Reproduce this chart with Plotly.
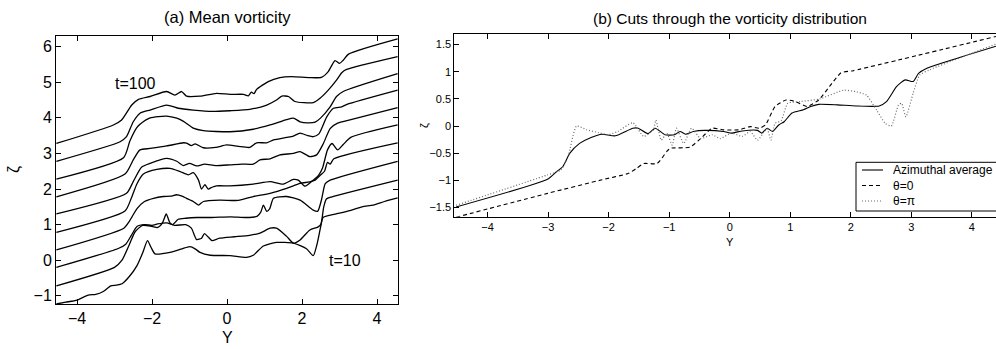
import plotly.graph_objects as go

# ---------------- (a) Mean vorticity: ten profiles, t=100 (top) ... t=10 (bottom)
t_labels = ["t=100", "t=90", "t=80", "t=70", "t=60", "t=50", "t=40", "t=30", "t=20", "t=10"]

y100 = [-4.55, -3.03, -2.81, -2.54, -2.36, -2.05, -1.61, -1.39, -1.21, -1.08, -0.72, -0.28, 0.08, 0.44, 0.57, 0.65, 0.72, 0.79, 1.10, 1.41, 1.72, 2.21, 2.52, 2.70, 2.88, 3.00, 3.10, 3.24, 4.55]
z100 = [3.28, 3.80, 3.94, 4.36, 4.52, 4.60, 4.74, 4.64, 4.74, 4.61, 4.61, 4.69, 4.66, 4.66, 4.62, 4.72, 4.68, 4.80, 5.02, 5.13, 5.16, 5.13, 5.14, 5.30, 5.61, 5.53, 5.62, 5.79, 6.22]

y90 = [-4.55, -2.85, -2.68, -2.50, -2.32, -2.05, -1.61, -1.30, -0.90, -0.40, 0.08, 0.61, 1.06, 1.32, 1.46, 1.64, 1.81, 2.30, 2.48, 2.70, 2.92, 3.06, 3.19, 4.55]
z90 = [2.78, 3.33, 3.47, 3.89, 4.13, 4.22, 4.36, 4.27, 4.22, 4.18, 4.20, 4.24, 4.36, 4.50, 4.61, 4.60, 4.46, 4.43, 4.55, 4.78, 5.06, 5.27, 5.36, 5.72]

y80 = [-4.55, -2.76, -2.59, -2.41, -2.32, -2.05, -1.61, -1.34, -1.16, -0.90, -0.63, 0.08, 0.70, 1.15, 1.59, 1.77, 1.95, 2.15, 2.35, 2.50, 2.75, 2.92, 3.10, 4.55]
z80 = [2.28, 2.88, 3.35, 3.72, 3.82, 4.00, 4.05, 3.99, 3.90, 3.71, 3.64, 3.61, 3.68, 3.80, 3.95, 3.99, 3.89, 3.86, 3.88, 4.00, 4.31, 4.60, 4.74, 5.24]

y70 = [-4.55, -2.72, -2.50, -2.32, -2.05, -1.61, -1.16, -1.08, -0.95, -0.85, -0.63, -0.30, -0.01, 0.30, 0.61, 0.79, 1.06, 1.24, 1.59, 1.77, 1.95, 2.15, 2.30, 2.45, 2.66, 2.84, 3.06, 3.20, 4.55]
z70 = [1.78, 2.42, 2.82, 3.10, 3.14, 3.21, 3.30, 3.29, 3.22, 3.27, 3.16, 3.17, 3.24, 3.20, 3.17, 3.30, 3.30, 3.38, 3.45, 3.49, 3.57, 3.50, 3.47, 3.55, 4.03, 4.27, 4.31, 4.38, 4.78]

y60 = [-4.55, -2.68, -2.50, -2.28, -2.05, -1.61, -1.34, -1.16, -1.00, -0.81, -0.60, -0.30, 0.08, 0.40, 0.70, 0.88, 1.15, 1.41, 1.77, 1.95, 2.21, 2.39, 2.57, 2.75, 2.95, 3.20, 4.55]
z60 = [1.30, 1.88, 2.21, 2.61, 2.72, 2.86, 2.78, 2.66, 2.72, 2.65, 2.70, 2.66, 2.68, 2.70, 2.70, 2.82, 2.85, 2.96, 3.00, 3.05, 2.91, 2.96, 3.28, 3.70, 3.85, 3.92, 4.29]

y50 = [-4.55, -2.72, -2.55, -2.40, -2.23, -1.87, -1.52, -1.25, -1.03, -0.90, -0.76, -0.68, -0.59, -0.50, -0.40, -0.28, 0.08, 0.70, 1.15, 1.50, 1.77, 1.90, 2.08, 2.30, 2.45, 2.55, 2.68, 2.80, 2.95, 3.10, 3.30, 4.55]
z50 = [0.78, 1.38, 1.75, 2.15, 2.42, 2.55, 2.58, 2.49, 2.40, 2.46, 2.25, 2.00, 2.12, 2.00, 2.05, 2.09, 2.09, 2.14, 2.21, 2.14, 2.27, 2.25, 2.08, 2.25, 2.40, 2.60, 3.10, 3.28, 3.10, 3.25, 3.45, 3.80]

y40 = [-4.55, -2.75, -2.60, -2.40, -2.20, -1.96, -1.70, -1.50, -1.34, -1.20, -1.08, -0.90, -0.76, -0.63, -0.19, 0.30, 0.70, 1.15, 1.59, 1.95, 2.20, 2.35, 2.50, 2.60, 2.68, 2.75, 2.85, 4.55]
z40 = [0.29, 0.90, 1.10, 1.45, 1.65, 1.74, 1.79, 1.80, 1.84, 1.80, 1.74, 1.65, 1.55, 1.65, 1.69, 1.68, 1.79, 1.88, 2.02, 2.16, 2.20, 2.25, 2.40, 2.50, 2.75, 2.70, 2.85, 3.30]

y30 = [-4.55, -2.90, -2.70, -2.55, -2.40, -2.20, -2.00, -1.85, -1.60, -1.45, -1.30, -1.10, -0.80, -0.40, 0.10, 0.50, 0.80, 0.90, 0.97, 1.06, 1.14, 1.24, 1.59, 1.95, 2.30, 2.42, 2.52, 2.62, 2.75, 4.55]
z30 = [-0.20, 0.33, 0.45, 0.70, 0.95, 1.00, 0.98, 1.02, 1.05, 1.00, 1.15, 1.18, 1.20, 1.20, 1.22, 1.20, 1.23, 1.35, 1.55, 1.37, 1.45, 1.74, 1.79, 1.69, 1.41, 1.38, 1.70, 2.15, 2.25, 2.78]

y20 = [-4.55, -3.00, -2.80, -2.60, -2.45, -2.25, -2.00, -1.85, -1.72, -1.62, -1.52, -1.40, -1.10, -0.95, -0.81, -0.68, -0.60, -0.50, -0.40, -0.20, 0.20, 0.60, 0.88, 1.15, 1.32, 1.59, 1.77, 1.95, 2.21, 2.42, 2.50, 2.58, 2.65, 2.80, 4.55]
z20 = [-0.72, -0.20, 0.00, 0.45, 0.80, 0.98, 0.95, 0.92, 1.05, 1.30, 1.05, 0.98, 1.00, 0.90, 0.58, 0.62, 0.75, 0.65, 0.55, 0.62, 0.66, 0.70, 0.76, 0.90, 0.90, 0.67, 0.48, 0.57, 0.85, 0.93, 1.00, 1.50, 1.72, 1.78, 2.25]

y10 = [-4.55, -4.30, -4.00, -3.70, -3.50, -3.30, -3.10, -2.95, -2.80, -2.60, -2.40, -2.25, -2.12, -2.02, -1.92, -1.52, -1.20, -0.99, -0.85, -0.72, -0.45, 0.08, 0.52, 0.70, 0.97, 1.32, 1.77, 2.12, 2.30, 2.40, 2.50, 2.56, 2.70, 3.00, 3.30, 3.60, 3.90, 4.20, 4.55]
z10 = [-1.23, -1.18, -1.12, -0.98, -0.96, -0.88, -0.72, -0.70, -0.66, -0.45, -0.15, 0.20, 0.55, 0.35, 0.18, 0.22, 0.32, 0.38, 0.32, 0.22, 0.14, 0.13, 0.08, 0.14, 0.40, 0.50, 0.48, 0.32, 0.13, 0.45, 0.95, 1.20, 1.25, 1.32, 1.40, 1.50, 1.55, 1.65, 1.75]

profiles_Y = [y100, y90, y80, y70, y60, y50, y40, y30, y20, y10]
profiles_Z = [z100, z90, z80, z70, z60, z50, z40, z30, z20, z10]

# ---------------- (b) Cuts through the vorticity distribution
avg_Y = [-4.52, -3.01, -2.86, -2.76, -2.64, -2.48, -2.29, -2.11, -1.89, -1.60, -1.51, -1.35, -1.23, -1.07, -0.91, -0.82, -0.73, -0.60, -0.41, -0.10, 0.03, 0.21, 0.46, 0.53, 0.62, 0.71, 0.81, 0.90, 1.03, 1.22, 1.34, 1.47, 1.78, 2.09, 2.47, 2.59, 2.76, 2.90, 3.03, 3.12, 3.25, 4.40]
avg_Z = [-1.49, -0.98, -0.84, -0.75, -0.50, -0.32, -0.21, -0.15, -0.18, -0.04, -0.04, -0.14, -0.04, -0.16, -0.16, -0.10, -0.15, -0.10, -0.08, -0.10, -0.13, -0.09, -0.08, -0.13, -0.04, -0.10, 0.02, 0.08, 0.24, 0.30, 0.36, 0.40, 0.39, 0.37, 0.37, 0.45, 0.73, 0.85, 0.82, 0.97, 1.06, 1.47]

th0_Y = [-4.52, -3.01, -2.11, -1.67, -1.54, -1.42, -1.20, -1.04, -0.98, -0.66, -0.48, -0.29, -0.10, 0.15, 0.34, 0.49, 0.59, 0.75, 0.93, 1.09, 1.28, 1.47, 1.65, 1.84, 2.04, 4.40]
th0_Z = [-1.68, -1.24, -0.99, -0.87, -0.78, -0.69, -0.69, -0.47, -0.41, -0.39, -0.23, -0.04, -0.07, -0.07, -0.01, -0.04, 0.02, 0.36, 0.48, 0.45, 0.36, 0.48, 0.73, 0.98, 1.02, 1.65]

thpi_Y = [-4.52, -3.01, -2.79, -2.67, -2.53, -2.36, -2.17, -2.01, -1.85, -1.60, -1.42, -1.26, -1.22, -1.13, -1.04, -0.95, -0.88, -0.76, -0.63, -0.48, -0.29, -0.16, 0.03, 0.21, 0.34, 0.46, 0.56, 0.62, 0.68, 0.75, 0.85, 0.96, 1.16, 1.49, 1.88, 2.10, 2.26, 2.43, 2.57, 2.67, 2.79, 2.84, 2.91, 3.03, 3.14, 3.31, 4.40]
thpi_Z = [-1.46, -0.90, -0.81, -0.56, 0.00, -0.07, -0.12, -0.16, -0.10, 0.06, -0.19, -0.07, 0.11, -0.26, -0.13, -0.35, -0.04, -0.32, -0.04, -0.23, -0.16, -0.23, -0.13, -0.19, -0.10, -0.26, -0.12, -0.05, -0.26, 0.05, 0.10, 0.42, 0.45, 0.50, 0.66, 0.63, 0.57, 0.29, 0.05, 0.00, 0.39, 0.42, 0.17, 0.60, 0.94, 1.04, 1.51]

series_names = ["Azimuthal average", "θ=0", "θ=π"]

left_xticks = [-4, -2, 0, 2, 4]
left_yticks = [-1, 0, 1, 2, 3, 4, 5, 6]
right_xticks = [-4, -3, -2, -1, 0, 1, 2, 3, 4]
right_yticks = [-1.5, -1, -0.5, 0, 0.5, 1, 1.5]


def minus(v):
    s = ("%g" % v)
    return s.replace("-", "\u2212")


FONT = "Liberation Sans, Arial, Helvetica, sans-serif"
W, H = 996, 349

series_styles = [
    dict(color="black", width=1.1),
    dict(color="black", width=1.1, dash="4px,3px"),
    dict(color="#6a6a6a", width=1.2, dash="1px,2px"),
]

fig = go.Figure()

for yy, zz, lab in zip(profiles_Y, profiles_Z, t_labels):
    fig.add_trace(go.Scatter(x=yy, y=zz, mode="lines", name=lab, showlegend=False,
                             line=dict(color="black", width=1.3, shape="spline", smoothing=0.6),
                             xaxis="x", yaxis="y", hoverinfo="skip"))

for yy, zz, nm, st in zip([avg_Y, th0_Y, thpi_Y], [avg_Z, th0_Z, thpi_Z], series_names, series_styles):
    fig.add_trace(go.Scatter(x=yy, y=zz, mode="lines", name=nm, showlegend=False,
                             line=dict(shape="spline", smoothing=0.55, **st),
                             xaxis="x2", yaxis="y2"))

axcommon = dict(showgrid=False, zeroline=False, showline=True, linecolor="black", linewidth=1,
                ticks="inside", tickcolor="black", ticklen=5, tickwidth=1)

fig.update_layout(
    width=W, height=H, margin=dict(l=0, r=0, t=0, b=0),
    paper_bgcolor="white", plot_bgcolor="white",
    font=dict(family=FONT, color="black"),
    showlegend=False,
    xaxis=dict(domain=[56 / W, 398 / W], anchor="y", range=[-4.56, 4.56], tickvals=left_xticks,
               ticktext=[minus(v) for v in left_xticks], mirror="ticks",
               tickfont=dict(size=16), **axcommon),
    yaxis=dict(domain=[1 - 304 / H, 1 - 36 / H], anchor="x", range=[-1.23, 6.30], tickvals=left_yticks,
               ticktext=[minus(v) for v in left_yticks], mirror="ticks",
               tickfont=dict(size=16), **axcommon),
    xaxis2=dict(domain=[454.3 / W, 1.0], anchor="y2", range=[-4.55, 4.40], tickvals=right_xticks,
                ticktext=[minus(v) for v in right_xticks], mirror="ticks",
                tickfont=dict(size=11), **axcommon),
    yaxis2=dict(domain=[1 - 216.7 / H, 1 - 34.3 / H], anchor="x2", range=[-1.67, 1.69], tickvals=right_yticks,
                ticktext=[minus(v) for v in right_yticks], mirror=False,
                tickfont=dict(size=11), **axcommon),
)

ann = [
    dict(text="(a) Mean vorticity", x=227 / W, y=1 - 17 / H, xref="paper", yref="paper", font=dict(size=16.5)),
    dict(text="(b) Cuts through the vorticity distribution", x=0, xref="x2", y=1 - 18 / H, yref="paper", font=dict(size=15.5)),
    dict(text="Y", x=0, xref="x", y=1 - 337 / H, yref="paper", font=dict(size=16)),
    dict(text="Y", x=0, xref="x2", y=1 - 242 / H, yref="paper", font=dict(size=11)),
    dict(text="ζ", x=14 / W, y=1 - 170 / H, xref="paper", yref="paper", font=dict(size=16), textangle=-90),
    dict(text="ζ", x=424 / W, y=1 - 126 / H, xref="paper", yref="paper", font=dict(size=11), textangle=-90),
    dict(text="t=100", x=-2.43, y=4.97, xref="x", yref="y", font=dict(size=16)),
    dict(text="t=10", x=3.15, y=0.0, xref="x", yref="y", font=dict(size=16)),
]

# legend box for panel (b), drawn in paper space
leg_left, leg_top, leg_bottom = 856, 162.3, 211
leg_rows = [170, 185.5, 201]
shapes = [dict(type="rect", xref="paper", yref="paper", x0=leg_left / W, x1=1.002,
               y0=1 - leg_bottom / H, y1=1 - leg_top / H, line=dict(color="black", width=1),
               fillcolor="white", layer="above")]
for row, nm, st in zip(leg_rows, series_names, series_styles):
    shapes.append(dict(type="line", xref="paper", yref="paper", x0=862 / W, x1=883 / W,
                       y0=1 - row / H, y1=1 - row / H, layer="above",
                       line=dict(color=st["color"], width=st["width"], dash=st.get("dash", "solid"))))
    ann.append(dict(text=nm, x=891 / W, y=1 - row / H, xref="paper", yref="paper",
                    font=dict(size=12), xanchor="left"))

fig.update_layout(shapes=shapes)

for a in ann:
    a.setdefault("showarrow", False)
    a.setdefault("xanchor", "center")
    a.setdefault("yanchor", "middle")
    fig.add_annotation(**a)

fig.write_html("out.html")
